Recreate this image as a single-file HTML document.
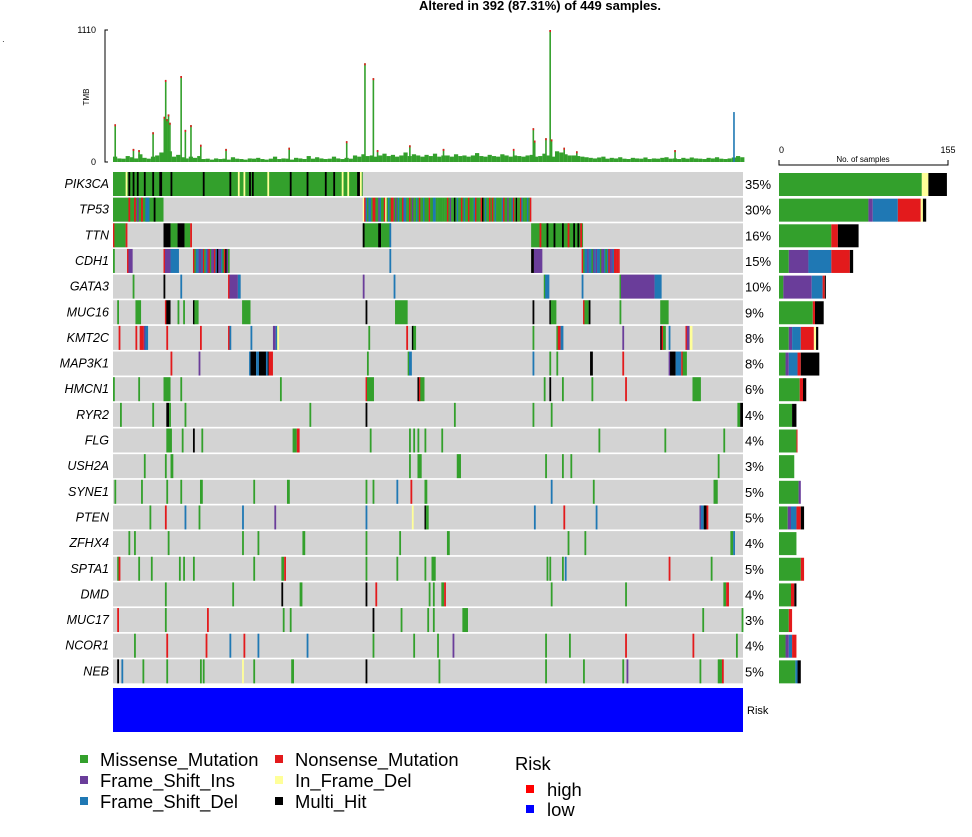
<!DOCTYPE html>
<html><head><meta charset="utf-8"><style>
html,body{margin:0;padding:0;background:#fff;}
svg{display:block;font-family:"Liberation Sans",Arial,sans-serif;}
</style></head><body>
<svg id="chart" width="972" height="837" viewBox="0 0 972 837" xmlns="http://www.w3.org/2000/svg">
<text x="540" y="10" text-anchor="middle" font-size="13" font-weight="bold">Altered in 392 (87.31%) of 449 samples.</text>
<text x="2" y="44" font-size="8">·</text>
<g id="tmb"></g>
<g id="grid"></g>
<g id="side"></g>
<rect x="113" y="688" width="630" height="44" fill="#0000ff"/>
<text x="747" y="714" font-size="11">Risk</text>
<g font-size="18.4">
<rect x="80" y="755" width="8" height="8" fill="#33a02c"/>
<text x="100" y="766">Missense_Mutation</text>
<rect x="80" y="776" width="8" height="8" fill="#6a3d9a"/>
<text x="100" y="787">Frame_Shift_Ins</text>
<rect x="80" y="797" width="8" height="8" fill="#1f78b4"/>
<text x="100" y="808">Frame_Shift_Del</text>
<rect x="275" y="755" width="8" height="8" fill="#e31a1c"/>
<text x="295" y="766">Nonsense_Mutation</text>
<rect x="275" y="776" width="8" height="8" fill="#ffff99"/>
<text x="295" y="787">In_Frame_Del</text>
<rect x="275" y="797" width="8" height="8" fill="#000"/>
<text x="295" y="808">Multi_Hit</text>
<text x="515" y="770">Risk</text>
<rect x="526" y="785" width="8" height="8" fill="#ff0000"/>
<text x="547" y="796">high</text>
<rect x="526" y="805" width="8" height="8" fill="#0000ff"/>
<text x="547" y="816">low</text>
</g>
</svg>
<script>
const genes = ['PIK3CA','TP53','TTN','CDH1','GATA3','MUC16','KMT2C','MAP3K1','HMCN1','RYR2','FLG','USH2A','SYNE1','PTEN','ZFHX4','SPTA1','DMD','MUC17','NCOR1','NEB'];
const pcts = ['35%','30%','16%','15%','10%','9%','8%','8%','6%','4%','4%','3%','5%','5%','4%','5%','4%','3%','4%','5%'];
const typeOrder = ['M','I','D','N','F','H'];
const countsM = [131,82,48,9,4,31,9,6,19,12,16,14,18,8,16,20,11,9,6,15];
const countsI = [0,4,0,18,26,0,3,3,0,0,0,0,2,3,0,0,0,0,3,0];
const countsD = [0,23,0,21,10,0,8,8,0,0,0,0,0,5,0,0,0,0,3,2];
const countsN = [0,21,6,17,2,2,12,3,3,0,1,0,0,4,0,3,3,3,4,0];
const countsF = [6,2,0,0,0,0,2,0,0,0,0,0,0,0,0,0,0,0,0,0];
const countsH = [17,3,19,3,1,8,2,17,3,4,0,0,0,3,0,0,2,0,0,3];
const sideTicks = [0,155];
const tmbTicks = [0,1110];
const tmbBins = [45,30,28,50,40,30,65,35,28,45,55,80,110,90,45,60,40,30,45,35,50,
25,28,20,30,25,28,20,40,28,25,20,30,28,35,25,20,28,45,25,30,28,20,35,30,25,50,28,40,30,25,28,45,30,25,35,28,55,45,
65,50,55,45,55,70,50,60,45,55,80,50,65,55,45,60,50,70,45,55,55,45,65,50,55,45,55,75,50,45,60,50,45,65,55,45,55,50,45,55,60,45,50,70,55,45,90,80,65,55,55,50,45,
40,35,30,38,45,28,35,30,40,28,25,35,30,28,38,25,30,28,35,40,28,30,25,35,28,38,30,28,25,35,30,40,28,25,30,38,50,40];
const tmbPeakSamples = [1,14,18,28,36,37,38,39,40,48,51,55,62,80,125,166,179,185,188,211,235,285,299,300,308,311,312,321,330,400,442];
const tmbPeakValues = [317,110,100,250,380,690,360,400,330,723,270,310,145,110,120,175,830,705,100,140,110,110,284,180,200,1110,190,120,90,100,420];
const muts = [
[[0,177,'M'],[9,9,'F'],[11,11,'H'],[14,14,'H'],[17,17,'H'],[22,22,'H'],[28,28,'H'],[33,34,'H'],[41,41,'H'],[64,64,'H'],[83,83,'H'],[89,89,'F'],[93,93,'F'],[97,97,'H'],[99,99,'H'],[110,110,'F'],[126,126,'H'],[138,138,'H'],[151,151,'H'],[157,157,'H'],[163,163,'F'],[167,167,'F'],[174,175,'H'],[176,176,'F']],
[[0,35,'M'],[11,11,'N'],[15,15,'N'],[17,17,'I'],[20,20,'N'],[23,25,'D'],[29,29,'H'],[178,297,'FNDMDDMNNMMIDMMNFMDMNNMIMDMMNDDMMNMIMMDMNMMDMMMNMMDDMMMMMMMMNMIMMHMDMMNMDMMNMMMDNMMMNHMDMMNMNMDMMMMDNMMIMMDNMHMMNDMMMDMNMM']],
[[0,0,'N'],[1,8,'M'],[9,9,'N'],[36,40,'H'],[41,45,'M'],[46,50,'H'],[51,54,'M'],[55,55,'N'],[178,197,'M'],[178,178,'H'],[189,190,'H'],[197,197,'D'],[298,334,'M'],[304,304,'N'],[309,309,'H'],[314,314,'H'],[320,320,'H'],[324,324,'N'],[328,328,'H'],[331,331,'H'],[333,333,'N']],
[[0,0,'M'],[10,10,'N'],[11,13,'I'],[36,36,'N'],[37,40,'I'],[41,46,'D'],[57,82,'NMDDIIDNMDINMIINDHIIDMNHIM'],[197,197,'D'],[298,299,'H'],[300,305,'I'],[334,360,'NMDDIDDMIDIDDMIIDMDNIIDNNNN']],
[[14,14,'M'],[36,36,'H'],[48,48,'D'],[82,82,'N'],[83,88,'I'],[89,90,'D'],[178,178,'I'],[200,200,'D'],[307,307,'M'],[308,310,'D'],[334,334,'D'],[361,361,'M'],[362,385,'I'],[386,390,'D']],
[[3,3,'M'],[16,19,'M'],[37,37,'N'],[38,40,'H'],[46,46,'M'],[50,50,'M'],[57,57,'H'],[58,60,'M'],[92,97,'M'],[180,180,'H'],[201,209,'M'],[299,299,'H'],[311,311,'H'],[312,315,'M'],[335,335,'N'],[336,338,'M'],[339,339,'H'],[361,361,'M'],[390,395,'M']],
[[4,4,'N'],[16,16,'N'],[19,21,'N'],[22,22,'I'],[23,24,'D'],[38,38,'N'],[62,62,'N'],[82,82,'N'],[83,83,'D'],[98,98,'D'],[114,115,'I'],[116,116,'D'],[117,117,'F'],[182,182,'M'],[209,209,'N'],[213,213,'H'],[214,215,'M'],[299,299,'M'],[316,316,'M'],[317,318,'N'],[319,320,'D'],[363,363,'I'],[390,390,'H'],[391,391,'N'],[392,393,'M'],[396,396,'D'],[408,408,'N'],[409,410,'I'],[411,412,'F']],
[[41,41,'N'],[61,61,'I'],[97,97,'D'],[98,101,'H'],[102,103,'D'],[104,110,'H'],[109,109,'D'],[111,113,'N'],[181,181,'M'],[210,210,'M'],[211,212,'D'],[299,299,'D'],[311,311,'M'],[316,316,'M'],[340,341,'H'],[363,363,'N'],[396,396,'I'],[397,400,'H'],[401,404,'D'],[405,405,'N'],[406,408,'M']],
[[0,0,'M'],[18,18,'M'],[36,40,'M'],[48,48,'M'],[119,119,'M'],[180,180,'N'],[181,185,'M'],[217,217,'H'],[218,218,'N'],[219,221,'M'],[307,307,'M'],[311,311,'H'],[320,320,'M'],[341,341,'M'],[365,365,'N'],[413,418,'M']],
[[5,5,'M'],[28,28,'M'],[38,39,'H'],[40,40,'M'],[51,51,'M'],[140,140,'M'],[180,180,'H'],[243,243,'M'],[299,299,'M'],[312,312,'M'],[445,446,'M'],[447,448,'H']],
[[38,41,'M'],[49,49,'M'],[57,57,'H'],[63,63,'M'],[128,130,'M'],[131,132,'N'],[183,183,'M'],[211,211,'M'],[214,214,'M'],[217,217,'M'],[222,222,'M'],[234,234,'M'],[346,346,'M'],[393,393,'M'],[435,435,'M']],
[[22,22,'M'],[37,37,'M'],[41,42,'M'],[211,211,'M'],[217,219,'M'],[245,247,'M'],[308,308,'M'],[320,320,'M'],[326,326,'M'],[431,431,'M']],
[[1,1,'M'],[20,20,'M'],[38,38,'M'],[48,48,'M'],[62,63,'M'],[100,100,'M'],[124,125,'M'],[180,180,'M'],[185,185,'M'],[202,202,'D'],[212,212,'N'],[222,223,'M'],[312,312,'D'],[342,342,'M'],[428,430,'M']],
[[26,26,'M'],[37,37,'N'],[51,51,'D'],[61,61,'M'],[92,92,'D'],[115,115,'I'],[180,180,'D'],[213,213,'F'],[222,222,'H'],[223,224,'M'],[300,300,'D'],[321,321,'N'],[344,344,'D'],[418,418,'I'],[419,420,'D'],[421,422,'H'],[423,423,'N']],
[[11,11,'M'],[15,15,'M'],[39,39,'M'],[92,92,'M'],[103,103,'M'],[135,136,'M'],[180,180,'M'],[204,204,'M'],[238,239,'M'],[324,324,'M'],[336,336,'M'],[440,441,'M'],[442,442,'D']],
[[3,3,'M'],[4,4,'N'],[18,18,'M'],[27,27,'M'],[47,47,'M'],[50,50,'M'],[57,57,'M'],[100,100,'M'],[120,121,'M'],[122,122,'N'],[180,180,'M'],[202,202,'M'],[222,222,'M'],[227,229,'M'],[309,309,'M'],[311,311,'M'],[320,320,'M'],[322,322,'D'],[396,396,'N'],[426,426,'M']],
[[37,37,'M'],[85,85,'M'],[120,120,'H'],[133,134,'M'],[180,180,'H'],[187,187,'N'],[225,225,'M'],[228,228,'M'],[234,235,'M'],[236,236,'N'],[312,312,'M'],[365,365,'M'],[435,436,'M'],[437,438,'N']],
[[3,3,'N'],[37,37,'M'],[67,67,'N'],[121,121,'M'],[126,126,'M'],[185,185,'H'],[205,205,'M'],[224,224,'M'],[228,228,'M'],[249,252,'M'],[420,420,'M'],[448,448,'M']],
[[15,15,'M'],[38,38,'N'],[66,66,'N'],[83,83,'D'],[93,93,'N'],[103,103,'D'],[138,138,'D'],[185,185,'M'],[214,214,'M'],[231,231,'M'],[242,242,'I'],[308,308,'M'],[325,325,'M'],[365,365,'N'],[413,413,'N'],[444,444,'M']],
[[3,3,'H'],[6,6,'D'],[21,21,'M'],[38,38,'M'],[62,62,'M'],[64,64,'M'],[92,92,'F'],[100,100,'M'],[127,128,'M'],[180,180,'H'],[232,232,'M'],[308,308,'M'],[335,335,'M'],[363,363,'M'],[366,366,'I'],[418,418,'M'],[431,433,'M'],[434,434,'N']]
];

const NS = 'http://www.w3.org/2000/svg';
const COL = {M:'#33a02c',I:'#6a3d9a',D:'#1f78b4',N:'#e31a1c',F:'#ffff99',H:'#000000'};
const NAMES = {M:'missense',I:'frame-shift-ins',D:'frame-shift-del',N:'nonsense',F:'in-frame-del',H:'multi-hit'};
const NSAMP = 449, GX0 = 113, GX1 = 743, GY0 = 172, ROWP = 25.65, ROWH = 24;
const sw = (GX1 - GX0) / NSAMP;
const xS = s => GX0 + s * sw;
const rowY = i => GY0 + i * ROWP;
const TY0 = 162, TY1 = 30;
const yT = v => TY0 - (v / 1110) * (TY0 - TY1);
const SX0 = 779, SX1 = 948;
const xC = c => SX0 + c * (SX1 - SX0) / 155;
function mk(tag, attrs, parent) {
  const e = document.createElementNS(NS, tag);
  for (const k in attrs) e.setAttribute(k, attrs[k]);
  parent.appendChild(e);
  return e;
}
const tmb = document.getElementById('tmb');
tmbBins.forEach((v, i) => {
  const r = mk('rect', {x: xS(i*3), y: yT(v), width: sw*3, height: TY0 - yT(v), fill: '#33a02c'}, tmb);
  
  
});
tmbPeakSamples.forEach((s, i) => {
  const v = tmbPeakValues[i];
  const blue = v === 420 && s > 430;
  const r = mk('rect', {x: xS(s), y: yT(v), width: 1.6, height: TY0 - yT(v), fill: blue ? '#1f78b4' : '#33a02c'}, tmb);
  
  
  if (!blue) {
    const t = mk('rect', {x: xS(s), y: yT(v), width: 1.6, height: 2, fill: '#e31a1c'}, tmb);
    
    
  }
});
const ax = mk('path', {d: `M108 ${TY1} H105 V${TY0} H108`, stroke: '#000', fill: 'none', 'stroke-width': 1}, tmb);


tmbTicks.forEach(v => {
  const t = mk('text', {x: 96, y: yT(v) + 3, 'text-anchor': 'end', 'font-size': 9}, tmb);
  t.textContent = String(v);
  
  
});
const tl = mk('text', {x: 0, y: 0, 'font-size': 8, 'text-anchor': 'middle', transform: 'translate(89,97) rotate(-90)'}, tmb);
tl.textContent = 'TMB';



const grid = document.getElementById('grid');
genes.forEach((g, i) => {
  const y = rowY(i);
  const bg = mk('rect', {x: GX0, y: y, width: GX1 - GX0, height: ROWH, fill: '#d3d3d3'}, grid);
  
  
  muts[i].forEach(m => {
    const [a, b, code] = m;
    for (let s = a; s <= b; s++) {
      const c = code.length > 1 ? code[(s - a) % code.length] : code;
      if (code.length === 1 && s > a) break;
      const w = code.length > 1 ? sw : Math.max((b - a + 1) * sw, 1.8);
      const r = mk('rect', {x: xS(s), y: y, width: w + (code.length > 1 ? 0.2 : 0), height: ROWH, fill: COL[c]}, grid);
      
      
    }
  });
  const gl = mk('text', {x: 109, y: y + 16, 'text-anchor': 'end', 'font-size': 12.5, 'font-style': 'italic'}, grid);
  gl.textContent = g;
  
  
  const pl = mk('text', {x: 745, y: y + 17, 'font-size': 13}, grid);
  pl.textContent = pcts[i];
  
  
});

const side = document.getElementById('side');
const sax = mk('path', {d: `M${SX0} 160 V165 H${SX1} V160`, stroke: '#000', fill: 'none', 'stroke-width': 1}, side);


sideTicks.forEach(v => {
  const t = mk('text', {x: xC(v), y: 153, 'text-anchor': v === 0 ? 'start' : 'middle', 'font-size': 9}, side);
  t.textContent = String(v);
  
  
});
const st = mk('text', {x: 863, y: 162, 'text-anchor': 'middle', 'font-size': 8}, side);
st.textContent = 'No. of samples';


const seriesArr = [countsM, countsI, countsD, countsN, countsF, countsH];
genes.forEach((g, i) => {
  let acc = 0;
  seriesArr.forEach((ser, k) => {
    const v = ser[i];
    if (!v) return;
    const r = mk('rect', {x: xC(acc), y: rowY(i) + 1, width: xC(acc + v) - xC(acc), height: ROWH - 1, fill: COL[typeOrder[k]]}, side);
    
    
    acc += v;
  });
});
</script>
</body></html>
